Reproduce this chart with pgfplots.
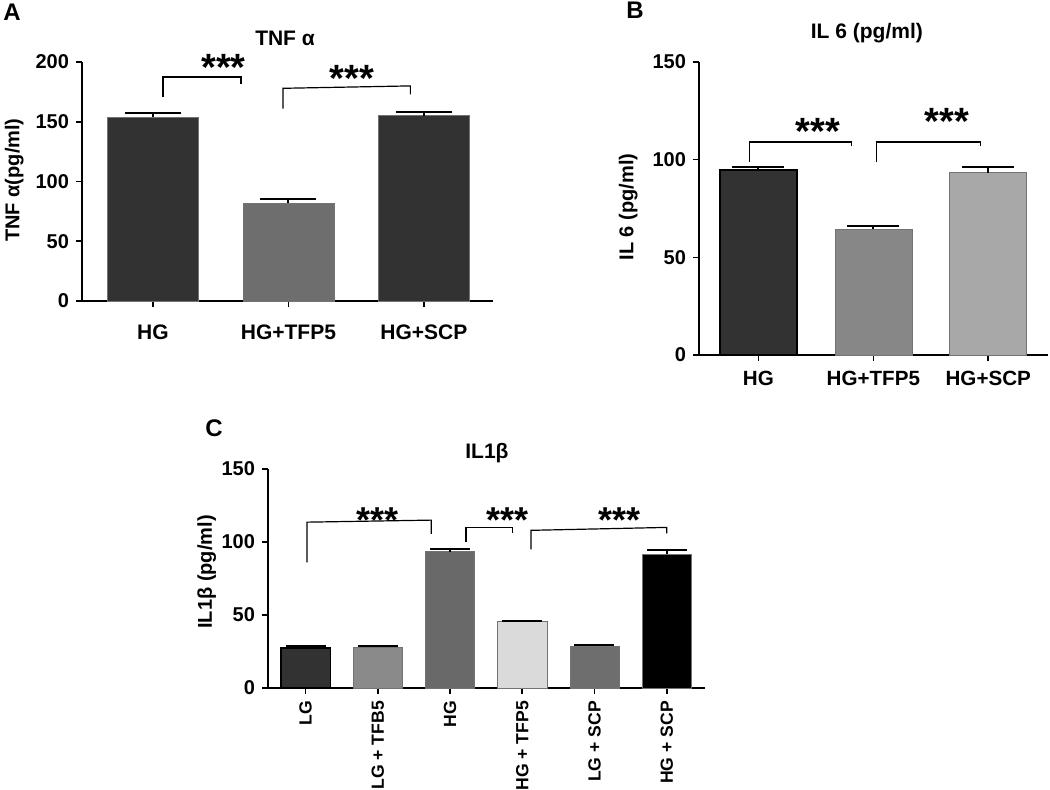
\documentclass[border=0pt]{standalone}
\usepackage{fontspec}
\setmainfont{Liberation Sans}
\usepackage{pgfplots}
\pgfplotsset{compat=1.18}

\definecolor{gDark}{RGB}{50,50,50}
\definecolor{gMid}{RGB}{110,110,110}
\definecolor{gB2}{RGB}{135,135,135}
\definecolor{gB3}{RGB}{168,168,168}
\definecolor{gC2}{RGB}{138,138,138}
\definecolor{gC3}{RGB}{105,105,105}
\definecolor{gC4}{RGB}{218,218,218}
\definecolor{gC5}{RGB}{110,110,110}

\pgfplotsset{
  panel/.style={
    scale only axis, axis lines=left, clip=false, anchor=south west,
    ymin=0,
    axis line style={-, line width=1pt, black},
    tick style={black, line width=0.8pt},
    major tick length=3pt, tick align=outside,
    /pgf/number format/assume math mode=true,
    tick label style={font=\bfseries\fontsize{10}{12}\selectfont},
    label style={font=\bfseries\fontsize{10}{12}\selectfont},
    title style={font=\bfseries\fontsize{10.5}{12}\selectfont, anchor=center, yshift=-6pt},
  },
  onebar/.style 2 args={ybar, bar width=#2, bar shift=0pt, fill=#1,
    draw=black!55, line width=0.3pt,
    error bars/y dir=plus, error bars/y explicit,
    error bars/error bar style={line width=1pt, black},
  },
}
\tikzset{
  bracket/.style={line width=0.6pt, black},
  stars/.style={font=\bfseries\fontsize{19}{19}\selectfont, anchor=base,
    yshift=-10.8pt, inner sep=0pt},
}

\begin{document}
\begin{tikzpicture}[x=0.5pt, y=-0.5pt]
\useasboundingbox (0,0) rectangle (1050,789);
\coordinate (pA) at (82,301);
\coordinate (pB) at (699,355);
\coordinate (pC) at (268,688);

\node[font=\bfseries\fontsize{12}{12}\selectfont] at (12,12) {A};
\node[font=\bfseries\fontsize{12}{12}\selectfont] at (635,10) {B};
\node[font=\bfseries\fontsize{12}{12}\selectfont] at (214,428) {C};

% Panel A: TNF alpha
\begin{axis}[panel, at={(pA)}, width=205.5pt, height=119.5pt,
  xmin=-0.524, xmax=2.51, ymax=200, ytick={0,50,100,150,200},
  xtick={0,1,2}, xticklabels={HG,HG+TFP5,HG+SCP},
  xticklabel style={yshift=-5.5pt, font=\bfseries\fontsize{10.5}{12}\selectfont},
  title={TNF α}, title style={at={(0.494,1.10)}},
  ylabel={TNF α(pg/ml)}, ylabel style={at={(-0.165,0.506)}, anchor=center},
  error bars/error mark options={black, rotate=90, mark size=14pt, line width=1pt}]
\addplot[onebar={gDark}{0.67}] coordinates {(0,154) +- (0,3)};
\addplot[onebar={gMid}{0.67}] coordinates {(1,82) +- (0,3)};
\addplot[onebar={gDark}{0.67}] coordinates {(2,155) +- (0,3)};
\draw[bracket] (axis cs:0.074,171) -- (axis cs:0.074,187.4) -- (axis cs:0.65,187.4) -- (axis cs:0.65,182);
\draw[bracket] (axis cs:0.96,161) -- (axis cs:0.96,178) -- (axis cs:1.90,180) -- (axis cs:1.90,173);
\node[stars] at (axis cs:0.52,203) {***};
\node[stars] at (axis cs:1.47,193) {***};
\end{axis}

% Panel B: IL 6
\begin{axis}[panel, at={(pB)}, width=174.5pt, height=146.5pt,
  xmin=-0.517, xmax=2.52, ymax=150, ytick={0,50,100,150},
  xtick={0,1,2}, xticklabels={HG,HG+TFP5,HG+SCP},
  xticklabel style={yshift=-1.5pt, font=\bfseries\fontsize{10.3}{12}\selectfont},
  title={IL 6 (pg/ml)}, title style={at={(0.481,1.099)}},
  ylabel={IL 6 (pg/ml)}, ylabel style={at={(-0.203,0.505)}, anchor=center},
  error bars/error mark options={black, rotate=90, mark size=13pt, line width=1pt}]
\addplot[onebar={gDark}{0.67}, draw=black, line width=0.6pt] coordinates {(0,94.7) +- (0,1.6)};
\addplot[onebar={gB2}{0.67}] coordinates {(1,64.5) +- (0,1.5)};
\addplot[onebar={gB3}{0.67}] coordinates {(2,93.3) +- (0,2.7)};
\draw[bracket] (axis cs:-0.08,98.8) -- (axis cs:-0.08,109) -- (axis cs:0.81,109) -- (axis cs:0.81,107);
\draw[bracket] (axis cs:1.03,98.8) -- (axis cs:1.03,109) -- (axis cs:1.93,109) -- (axis cs:1.93,107);
\node[stars] at (axis cs:0.52,119) {***};
\node[stars] at (axis cs:1.64,124) {***};
\end{axis}

% Panel C: IL1 beta
\begin{axis}[panel, at={(pC)}, width=218.5pt, height=109.5pt,
  xmin=-0.52, xmax=5.53, ymax=150, ytick={0,50,100,150},
  xtick={0,1,2,3,4,5},
  xticklabels={LG,LG + TFB5,HG,HG + TFP5,LG + SCP,HG + SCP},
  xticklabel style={rotate=90, anchor=east, font=\bfseries\fontsize{8.8}{10}\selectfont},
  title={IL1β}, title style={at={(0.501,1.073)}},
  ylabel={IL1β (pg/ml)}, ylabel style={at={(-0.14,0.53)}, anchor=center},
  error bars/error mark options={black, rotate=90, mark size=10pt, line width=1pt}]
\addplot[onebar={gDark}{0.68}, draw=black, line width=0.6pt] coordinates {(0,27.4) +- (0,1.4)};
\addplot[onebar={gC2}{0.68}] coordinates {(1,28) +- (0,1)};
\addplot[onebar={gC3}{0.68}] coordinates {(2,93.4) +- (0,2)};
\addplot[onebar={gC4}{0.68}] coordinates {(3,45.4) +- (0,0.7)};
\addplot[onebar={gC5}{0.68}] coordinates {(4,28.8) +- (0,0.8)};
\addplot[onebar={black}{0.68}] coordinates {(5,91.7) +- (0,2.8)};
\draw[bracket] (axis cs:0.02,86) -- (axis cs:0.02,113.6) -- (axis cs:1.74,115) -- (axis cs:1.74,105.5);
\draw[bracket] (axis cs:2.22,100) -- (axis cs:2.22,110) -- (axis cs:2.86,110) -- (axis cs:2.86,106);
\draw[bracket] (axis cs:3.12,95) -- (axis cs:3.12,108) -- (axis cs:5.0,110) -- (axis cs:5.0,106);
\node[stars, font=\bfseries\fontsize{18}{18}\selectfont] at (axis cs:1.0,121.5) {***};
\node[stars, font=\bfseries\fontsize{18}{18}\selectfont] at (axis cs:2.80,121.5) {***};
\node[stars, font=\bfseries\fontsize{18}{18}\selectfont] at (axis cs:4.35,121.5) {***};
\end{axis}
\end{tikzpicture}
\end{document}
